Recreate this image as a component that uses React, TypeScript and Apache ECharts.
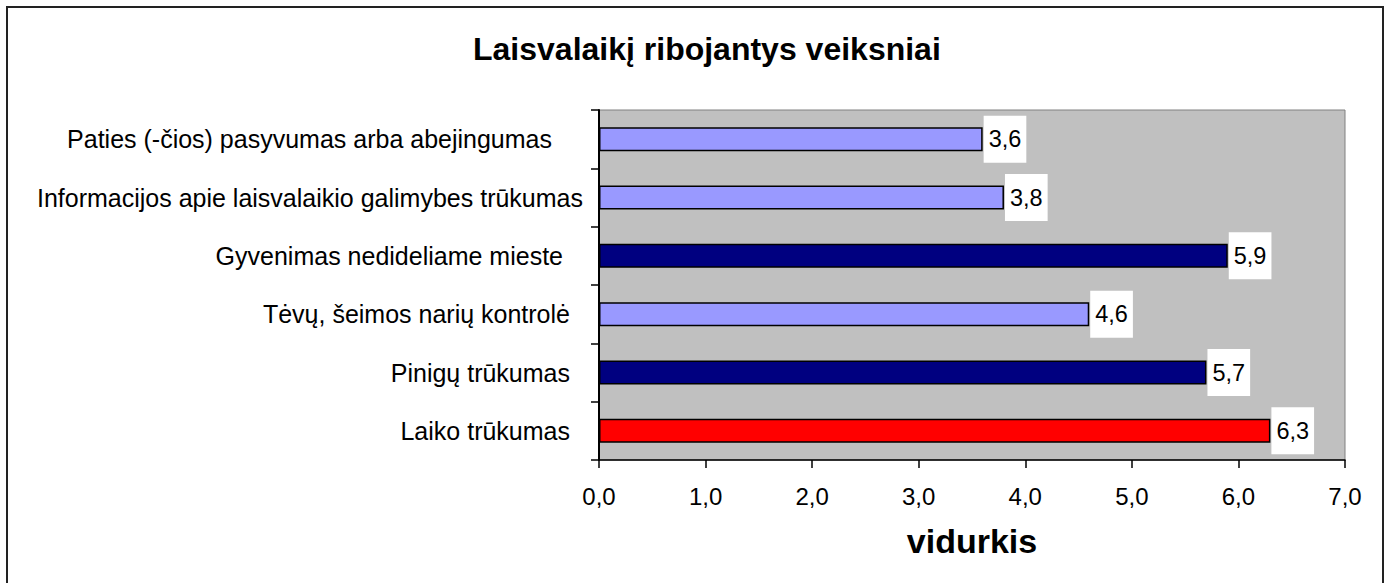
import React, { useEffect, useRef } from "react";
import * as echarts from "echarts";

const categories = [
  "Laiko trūkumas",
  "Pinigų trūkumas",
  "Tėvų, šeimos narių kontrolė",
  "Gyvenimas nedideliame mieste",
  "Informacijos apie laisvalaikio galimybes trūkumas",
  "Paties (-čios) pasyvumas arba abejingumas",
];
const values = [6.3, 5.7, 4.6, 5.9, 3.8, 3.6];
const barColors = ["#FF0000", "#000080", "#9999FF", "#000080", "#9999FF", "#9999FF"];
const labelPadRight = [13, 13, 13, 20, 0, 31];
const titleText = "Laisvalaikį ribojantys veiksniai";
const axisName = "vidurkis";

const FONT = 'Arial, "Liberation Sans", sans-serif';
const fmt = (v: number) => v.toFixed(1).replace(".", ",");

export default function App() {
  const ref = useRef<HTMLDivElement>(null);
  useEffect(() => {
    const chart = echarts.init(ref.current!, null, { renderer: "svg" });
    const rich: any = {};
    labelPadRight.forEach((p, i) => {
      rich["p" + i] = {
        fontFamily: FONT,
        fontSize: 25,
        color: "#000",
        padding: [0, p, 0, 0],
      };
    });
    chart.setOption({
      animation: false,
      backgroundColor: "#fff",
      textStyle: { fontFamily: FONT },
      title: {
        text: titleText,
        left: 468,
        top: 28,
        textStyle: { fontFamily: FONT, fontSize: 32, fontWeight: "bold", color: "#000" },
      },
      graphic: [
        {
          type: "rect",
          shape: { x: 7, y: 7, width: 1376, height: 600 },
          style: { fill: "none", stroke: "#222", lineWidth: 2 },
          z: 100,
        },
      ],
      grid: {
        left: 599,
        right: 44,
        top: 110,
        bottom: 123,
        show: true,
        backgroundColor: "#C0C0C0",
        borderColor: "#808080",
        borderWidth: 1,
        containLabel: false,
      },
      xAxis: {
        type: "value",
        min: 0,
        max: 7,
        interval: 1,
        name: axisName,
        nameLocation: "middle",
        nameGap: 64,
        nameTextStyle: { fontFamily: FONT, fontSize: 34, fontWeight: "bold", color: "#000" },
        splitLine: { show: false },
        axisLine: { show: true, lineStyle: { color: "#000", width: 1.5 } },
        axisTick: { show: true, length: 8, lineStyle: { color: "#000", width: 1.5 } },
        axisLabel: {
          formatter: (v: number) => fmt(v),
          fontFamily: FONT,
          fontSize: 24,
          color: "#000",
          margin: 24,
        },
      },
      yAxis: {
        type: "category",
        data: categories,
        axisLine: { show: true, lineStyle: { color: "#000", width: 2 } },
        axisTick: { show: true, length: 8, lineStyle: { color: "#000", width: 1.5 } },
        axisLabel: {
          margin: 16,
          fontFamily: FONT,
          fontSize: 25,
          color: "#000",
          formatter: (v: string, i: number) => `{p${i}|${v}}`,
          rich,
        },
      },
      series: [
        {
          type: "bar",
          barWidth: 24,
          data: values.map((v, i) => ({
            value: v,
            itemStyle: { color: barColors[i], borderColor: "#000", borderWidth: 1.5 },
          })),
          label: {
            show: true,
            position: "right",
            distance: 1,
            formatter: (p: any) => fmt(p.value),
            backgroundColor: "#fff",
            lineHeight: 47,
            padding: [0, 5, 0, 5],
            fontFamily: FONT,
            fontSize: 23.5,
            color: "#000",
          },
        },
      ],
    });
    return () => chart.dispose();
  }, []);
  return (
    <div
      ref={ref}
      style={{ position: "fixed", left: 0, top: 0, width: 1389, height: 583 }}
    />
  );
}
